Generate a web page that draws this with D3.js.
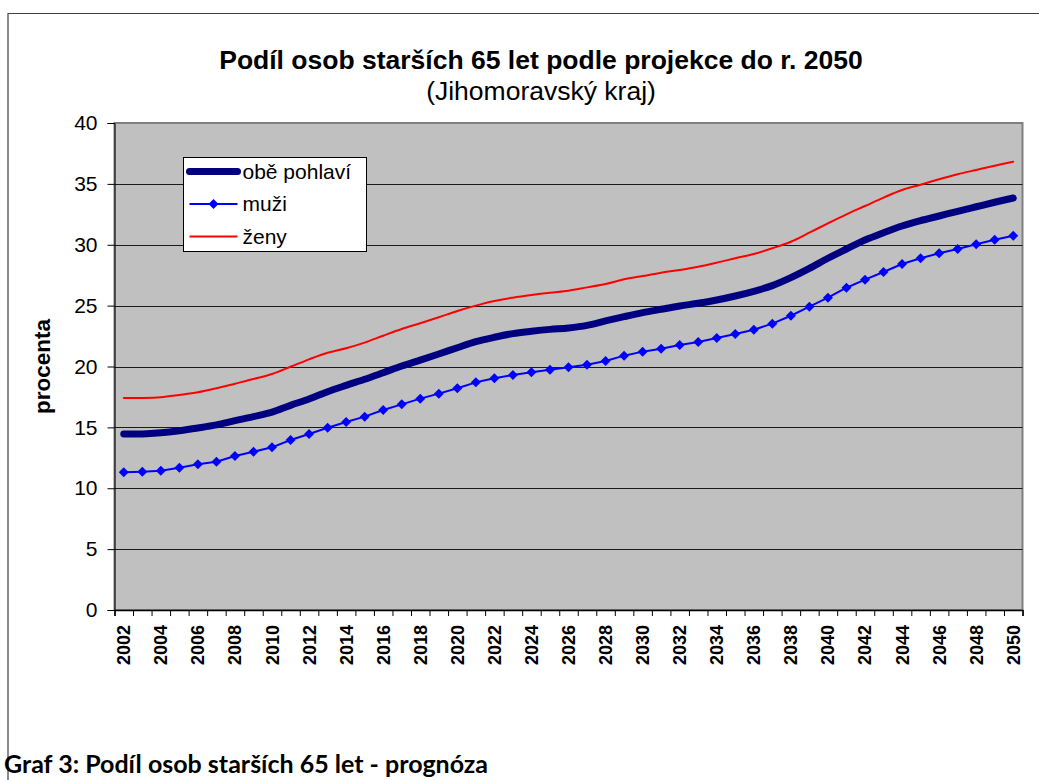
<!DOCTYPE html>
<html>
<head>
<meta charset="utf-8">
<script src="https://cdn.jsdelivr.net/npm/d3@7"></script>
<style>
  body { margin: 0; background: #fff; }
  svg { display: block; font-family: "Liberation Sans", Arial, sans-serif; }
</style>
</head>
<body>
<div class="chart"></div>
<script>
const years = [2002, 2003, 2004, 2005, 2006, 2007, 2008, 2009, 2010, 2011, 2012, 2013, 2014,
  2015, 2016, 2017, 2018, 2019, 2020, 2021, 2022, 2023, 2024, 2025, 2026,
  2027, 2028, 2029, 2030, 2031, 2032, 2033, 2034, 2035, 2036, 2037, 2038,
  2039, 2040, 2041, 2042, 2043, 2044, 2045, 2046, 2047, 2048, 2049, 2050];

// obě pohlaví
const obe = [14.46, 14.46, 14.56, 14.73, 14.95, 15.20, 15.55, 15.88, 16.25, 16.81, 17.33, 17.93, 18.45,
  18.95, 19.49, 20.04, 20.53, 21.03, 21.54, 22.04, 22.40, 22.70, 22.89, 23.05, 23.17,
  23.38, 23.74, 24.09, 24.42, 24.70, 24.97, 25.19, 25.46, 25.79, 26.18, 26.64, 27.30,
  28.06, 28.89, 29.65, 30.39, 30.99, 31.54, 31.98, 32.36, 32.75, 33.12, 33.49, 33.84];

// muži
const muzi = [11.31, 11.36, 11.44, 11.69, 11.97, 12.18, 12.65, 13.00, 13.36, 13.96, 14.46, 14.97, 15.44,
  15.88, 16.43, 16.89, 17.36, 17.77, 18.21, 18.70, 19.03, 19.30, 19.52, 19.74, 19.93,
  20.15, 20.45, 20.89, 21.22, 21.46, 21.77, 22.01, 22.34, 22.67, 23.02, 23.52, 24.17,
  24.91, 25.65, 26.47, 27.13, 27.76, 28.42, 28.89, 29.30, 29.65, 30.04, 30.41, 30.74];

// ženy
const zeny = [17.41, 17.41, 17.47, 17.66, 17.88, 18.21, 18.59, 18.97, 19.38, 19.98, 20.59, 21.13, 21.50,
  21.96, 22.53, 23.08, 23.55, 24.04, 24.56, 25.00, 25.38, 25.65, 25.87, 26.06, 26.22,
  26.50, 26.78, 27.16, 27.43, 27.70, 27.93, 28.20, 28.53, 28.89, 29.24, 29.71, 30.25,
  30.99, 31.76, 32.50, 33.18, 33.87, 34.50, 34.93, 35.38, 35.79, 36.14, 36.49, 36.82];

const yTicks = [0, 5, 10, 15, 20, 25, 30, 35, 40];
const labelYears = years.filter(y => y % 2 === 0);

const series = [
  {name: 'obě pohlaví', values: obe, color: '#000080', width: 7, marker: false, smooth: true},
  {name: 'muži', values: muzi, color: '#0000ff', width: 2, marker: true, smooth: false},
  {name: 'ženy', values: zeny, color: '#ff0000', width: 2, marker: false, smooth: true},
];

const W = 1039, H = 780;
const plot = {left: 114.5, right: 1022.5, top: 123, bottom: 610};

const svg = d3.select('.chart')
  .append('svg')
  .attr('width', W)
  .attr('height', H);

// outer frame of the embedded chart
svg.append('path')
  .attr('d', `M8,780 V13.5 H1039`)
  .attr('fill', 'none')
  .attr('stroke', '#404040')
  .attr('stroke-width', 1.2);

const xScale = d3.scaleLinear()
  .domain([years[0] - 0.5, years[years.length - 1] + 0.5])
  .range([plot.left, plot.right]);

const yScale = d3.scaleLinear()
  .domain([0, 40])
  .range([plot.bottom, plot.top]);

// plot area
svg.append('rect')
  .attr('x', plot.left)
  .attr('y', plot.top)
  .attr('width', plot.right - plot.left)
  .attr('height', plot.bottom - plot.top)
  .attr('fill', '#c0c0c0')
  .attr('stroke', '#808080')
  .attr('stroke-width', 2);

// gridlines
svg.append('g')
  .selectAll('line')
  .data(yTicks.filter(t => t > 0 && t < 40))
  .enter()
  .append('line')
  .attr('x1', plot.left)
  .attr('x2', plot.right)
  .attr('y1', d => Math.round(yScale(d)) + 0.5)
  .attr('y2', d => Math.round(yScale(d)) + 0.5)
  .attr('stroke', '#1a1a1a')
  .attr('stroke-width', 1);

// y axis
const yAxis = svg.append('g')
  .attr('transform', `translate(${plot.left}, 0)`)
  .call(d3.axisLeft(yScale).tickValues(yTicks).tickSize(7).tickPadding(10));
yAxis.select('.domain').attr('stroke', '#000');
yAxis.selectAll('.tick line').attr('stroke', '#000');
yAxis.selectAll('text')
  .attr('font-size', 21)
  .attr('font-family', '"Liberation Sans", Arial, sans-serif')
  .attr('fill', '#000');

// x axis: ticks at category boundaries
const boundaries = years.map(y => y - 0.5).concat([years[years.length - 1] + 0.5]);
const xAxis = svg.append('g')
  .attr('transform', `translate(0, ${plot.bottom})`)
  .call(d3.axisBottom(xScale).tickValues(boundaries).tickSize(6).tickFormat(''));
xAxis.select('.domain').attr('stroke', '#000').attr('stroke-width', 1.5);
xAxis.selectAll('.tick line').attr('stroke', '#000');

// x labels every second year, rotated
const xLabels = svg.append('g')
  .attr('transform', `translate(0, ${plot.bottom})`)
  .call(d3.axisBottom(xScale).tickValues(labelYears).tickSize(0).tickFormat(d3.format('d')));
xLabels.select('.domain').remove();
xLabels.selectAll('text')
  .attr('font-size', 18)
  .attr('font-weight', 'bold')
  .attr('font-family', '"Liberation Sans", Arial, sans-serif')
  .attr('fill', '#000')
  .attr('text-anchor', 'end')
  .attr('dy', null)
  .attr('y', 0)
  .attr('transform', 'translate(6, 15) rotate(-90)');

// y axis title
svg.append('text')
  .attr('transform', `translate(50, ${(plot.top + plot.bottom) / 2}) rotate(-90)`)
  .attr('text-anchor', 'middle')
  .attr('font-size', 22.5)
  .attr('font-weight', 'bold')
  .text('procenta');

// lines
const lineLinear = d3.line()
  .x((d, i) => xScale(years[i]))
  .y(d => yScale(d));
const lineSmooth = d3.line()
  .x((d, i) => xScale(years[i]))
  .y(d => yScale(d))
  .curve(d3.curveCatmullRom.alpha(0.5));

series.forEach(s => {
  svg.append('path')
    .attr('d', (s.smooth ? lineSmooth : lineLinear)(s.values))
    .attr('fill', 'none')
    .attr('stroke', s.color)
    .attr('stroke-width', s.width)
    .attr('stroke-linejoin', 'round')
    .attr('stroke-linecap', 'round');
  if (s.marker) {
    svg.append('g')
      .selectAll('path')
      .data(s.values)
      .enter()
      .append('path')
      .attr('d', 'M0,-5 L5,0 L0,5 L-5,0 Z')
      .attr('transform', (d, i) => `translate(${xScale(years[i])}, ${yScale(d)})`)
      .attr('fill', s.color);
  }
});

// legend
const legend = svg.append('g').attr('transform', 'translate(183.5, 157.5)');
legend.append('rect')
  .attr('width', 183)
  .attr('height', 94)
  .attr('fill', '#fff')
  .attr('stroke', '#000')
  .attr('stroke-width', 1);
series.forEach((s, i) => {
  const cy = 14 + i * 32.5;
  legend.append('line')
    .attr('x1', 6).attr('x2', 54)
    .attr('y1', cy).attr('y2', cy)
    .attr('stroke', s.color)
    .attr('stroke-width', s.width)
    .attr('stroke-linecap', s.width > 3 ? 'round' : 'butt');
  if (s.marker) {
    legend.append('path')
      .attr('d', 'M0,-5 L5,0 L0,5 L-5,0 Z')
      .attr('transform', `translate(30, ${cy})`)
      .attr('fill', s.color);
  }
  legend.append('text')
    .attr('x', 59)
    .attr('y', cy + 7)
    .attr('font-size', 21)
    .text(s.name);
});

// titles
svg.append('text')
  .attr('x', 541)
  .attr('y', 69)
  .attr('text-anchor', 'middle')
  .attr('font-size', 26.5)
  .attr('font-weight', 'bold')
  .text('Podíl osob starších 65 let podle projekce do r. 2050');
svg.append('text')
  .attr('x', 541)
  .attr('y', 100)
  .attr('text-anchor', 'middle')
  .attr('font-size', 26.5)
  .text('(Jihomoravský kraj)');

// caption under the chart
svg.append('text')
  .attr('x', 4)
  .attr('y', 773)
  .attr('font-family', 'Lato, "Open Sans", sans-serif')
  .attr('font-size', 25)
  .attr('font-weight', 'bold')
  .text('Graf 3: Podíl osob starších 65 let - prognóza');
</script>
</body>
</html>
